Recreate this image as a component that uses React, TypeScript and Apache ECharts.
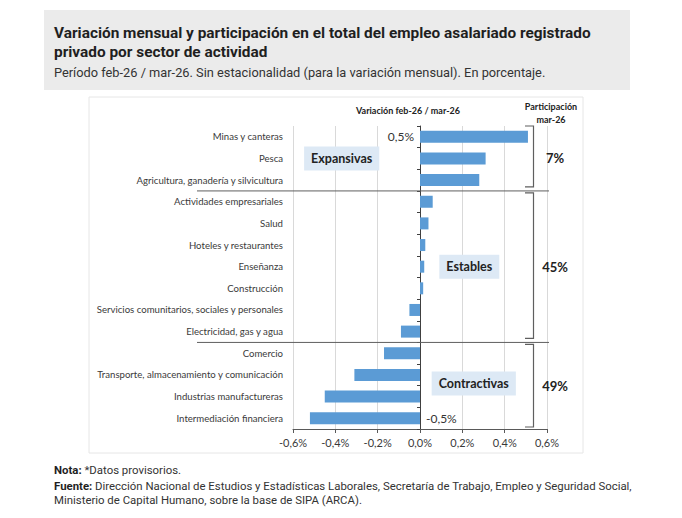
import React, { useEffect, useRef } from "react";
import * as echarts from "echarts";

// Sectors, top to bottom
const categories = [
  "Minas y canteras",
  "Pesca",
  "Agricultura, ganadería y silvicultura",
  "Actividades empresariales",
  "Salud",
  "Hoteles y restaurantes",
  "Enseñanza",
  "Construcción",
  "Servicios comunitarios, sociales y personales",
  "Electricidad, gas y agua",
  "Comercio",
  "Transporte, almacenamiento y comunicación",
  "Industrias manufactureras",
  "Intermediación financiera",
];

// Monthly variation feb-26 / mar-26, in %
const variation = [
  0.51, 0.31, 0.28, 0.06, 0.04, 0.025, 0.02, 0.015, -0.05, -0.09, -0.17, -0.31,
  -0.45, -0.52,
];

// Rows whose value is printed next to the bar
const labelledRows = [0, 13];

// Sector groups (consecutive rows) and their share of employment, mar-26
const groupNames = ["Expansivas", "Estables", "Contractivas"];
const groupSizes = [3, 7, 4];
const groupShares = [7, 45, 49];

const xTicks = { min: -0.6, max: 0.6, interval: 0.2 };

const fmtPct = (v: number) => {
  const r = Math.abs(v) < 1e-9 ? 0 : v;
  return r.toFixed(1).replace(".", ",") + "%";
};

const AXIS_FONT = "Lato";
const TXT = "#3a3a3a";
const DARK = "#222222";
const BAR = "#5b9bd5";
const BOX = "#dde9f5";
const RULE = "#5f5f5f";

export default function App() {
  const ref = useRef<HTMLDivElement>(null);

  useEffect(() => {
    document.body.style.margin = "0";
    const el = ref.current!;
    const chart = echarts.init(el, null, { renderer: "svg" });

    chart.setOption({
      animation: false,
      grid: { left: 293, right: 135, top: 126, bottom: 89, containLabel: false },
      xAxis: {
        type: "value",
        min: xTicks.min,
        max: xTicks.max,
        interval: xTicks.interval,
        position: "bottom",
        axisLine: { show: true, onZero: false, lineStyle: { color: "#595959", width: 1 } },
        axisTick: { show: true, length: 4, lineStyle: { color: "#595959" } },
        splitLine: { show: true, lineStyle: { color: "#d9d9d9", width: 1 } },
        axisLabel: {
          formatter: (v: number) => fmtPct(v),
          fontFamily: AXIS_FONT,
          fontSize: 11,
          color: TXT,
          margin: 8,
        },
      },
      yAxis: [
        {
          type: "category",
          data: categories,
          inverse: true,
          position: "left",
          axisLine: { show: false, onZero: false },
          axisTick: { show: false },
          splitLine: { show: false },
          axisLabel: {
            margin: 10,
            fontFamily: AXIS_FONT,
            fontSize: 9.6,
            color: TXT,
          },
        },
        {
          type: "category",
          data: categories,
          inverse: true,
          position: "left",
          axisLine: { show: true, onZero: true, onZeroAxisIndex: 0, lineStyle: { color: "#404040", width: 1 } },
          axisTick: { show: true, length: 3, lineStyle: { color: "#404040" } },
          axisLabel: { show: false },
          splitLine: { show: false },
        },
      ],
      series: [
        {
          type: "bar",
          yAxisIndex: 0,
          barWidth: 12,
          itemStyle: { color: BAR },
          data: variation.map((v, i) =>
            labelledRows.includes(i)
              ? {
                  value: v,
                  label: {
                    show: true,
                    position: v >= 0 ? "left" : "right",
                    distance: 6,
                    formatter: (p: any) => fmtPct(p.value),
                    fontFamily: AXIS_FONT,
                    fontSize: 12,
                    color: "#333",
                  },
                }
              : v
          ),
          z: 3,
        },
      ],
    });

    const yc = (i: number) => chart.convertToPixel({ yAxisIndex: 0 }, i) as unknown as number;
    const xc = (v: number) => chart.convertToPixel({ xAxisIndex: 0 }, v) as unknown as number;
    const band = yc(1) - yc(0);
    const edge = (i: number) => yc(i) - band / 2; // top edge of row i

    const graphics: any[] = [];

    // Header panel
    graphics.push({
      type: "rect",
      shape: { x: 44, y: 10, width: 586, height: 80 },
      style: { fill: "#ebebeb" },
      z: -10,
      silent: true,
    });
    const headLines = [
      { t: "Variación mensual y participación en el total del empleo asalariado registrado", y: 33, bold: true },
      { t: "privado por sector de actividad", y: 52, bold: true },
      { t: "Período feb-26 / mar-26. Sin estacionalidad (para la variación mensual). En porcentaje.", y: 72, bold: false },
    ];
    headLines.forEach((h) =>
      graphics.push({
        type: "text",
        x: 54,
        y: h.y,
        z: 5,
        style: {
          text: h.t,
          fontFamily: "Roboto",
          fontSize: h.bold ? 15.4 : 12.8,
          fontWeight: h.bold ? "bold" : "normal",
          fill: h.bold ? "#1f1f1f" : "#333",
          verticalAlign: "middle",
        },
      })
    );

    // Chart frame
    graphics.push({
      type: "rect",
      shape: { x: 89, y: 97, width: 494, height: 356 },
      style: { fill: "#ffffff", stroke: "#e6e6e6", lineWidth: 1 },
      z: -10,
      silent: true,
    });

    // Column headers
    graphics.push({
      type: "text",
      x: 408,
      y: 110,
      style: {
        text: "Variación feb-26 / mar-26",
        fontFamily: AXIS_FONT,
        fontSize: 9,
        fontWeight: "bold",
        fill: DARK,
        align: "center",
        verticalAlign: "middle",
      },
    });
    graphics.push({
      type: "text",
      x: 551,
      y: 113,
      style: {
        text: "Participación\nmar-26",
        fontFamily: AXIS_FONT,
        fontSize: 9,
        fontWeight: "bold",
        lineHeight: 12.5,
        fill: DARK,
        align: "center",
        verticalAlign: "middle",
      },
    });

    // Group rules, brackets, share labels and name boxes
    const boxAnchor = [
      { x: -0.37, row: 1 },
      { x: 0.233, row: 6 },
      { x: 0.254, row: 11.4 },
    ];
    let start = 0;
    groupSizes.forEach((n, g) => {
      const top = edge(start);
      const bottom = edge(start + n);
      if (g > 0) {
        graphics.push({
          type: "line",
          shape: { x1: 197, y1: top, x2: 549, y2: top },
          style: { stroke: RULE, lineWidth: 1 },
          z: 4,
        });
      }
      const bt = top + (g === 0 ? 0 : 2);
      const bb = bottom - (g === groupSizes.length - 1 ? 2 : 4);
      graphics.push({
        type: "polyline",
        shape: { points: [[525, bt], [533.5, bt], [533.5, bb], [525, bb]] },
        style: { stroke: RULE, lineWidth: 1.2, fill: "none" },
        z: 4,
      });
      graphics.push({
        type: "text",
        x: 555,
        y: (top + bottom) / 2,
        style: {
          text: groupShares[g] + "%",
          fontFamily: AXIS_FONT,
          fontSize: 13,
          fontWeight: "bold",
          fill: DARK,
          align: "center",
          verticalAlign: "middle",
        },
        z: 5,
      });
      const a = boxAnchor[g];
      const cx = xc(a.x);
      const cy = yc(0) + band * a.row;
      graphics.push({
        type: "text",
        x: cx,
        y: cy,
        z: 5,
        style: {
          text: groupNames[g],
          fontFamily: AXIS_FONT,
          fontSize: 12.5,
          fontWeight: "bold",
          fill: DARK,
          align: "center",
          verticalAlign: "middle",
          backgroundColor: BOX,
          padding: [6, 7, 5, 7],
        },
      });
      start += n;
    });

    // Notes
    const notes = [
      { t: "{b|Nota:} *Datos provisorios.", y: 470 },
      {
        t: "{b|Fuente:} Dirección Nacional de Estudios y Estadísticas Laborales, Secretaría de Trabajo, Empleo y Seguridad Social,",
        y: 486,
      },
      { t: "Ministerio de Capital Humano, sobre la base de SIPA (ARCA).", y: 500 },
    ];
    notes.forEach((nt) =>
      graphics.push({
        type: "text",
        x: 54,
        y: nt.y,
        style: {
          text: nt.t,
          fontFamily: "Roboto",
          fontSize: 11.4,
          fill: "#333",
          verticalAlign: "middle",
          rich: {
            b: { fontFamily: "Roboto", fontSize: 11.4, fontWeight: "bold", fill: "#1f1f1f" },
          },
        },
      })
    );

    chart.setOption({ graphic: graphics });

    return () => chart.dispose();
  }, []);

  return (
    <div
      ref={ref}
      style={{ position: "absolute", left: 0, top: 0, width: 682, height: 518 }}
    />
  );
}
